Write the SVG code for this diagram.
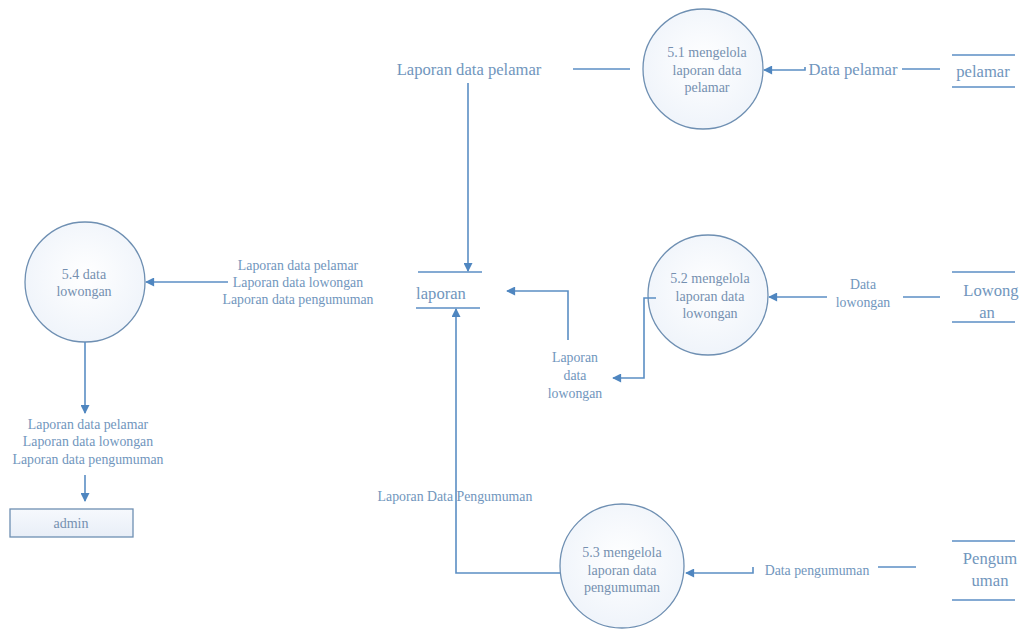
<svg xmlns="http://www.w3.org/2000/svg" width="1023" height="629" viewBox="0 0 1023 629">
  <defs>
    <radialGradient id="procFill" cx="50%" cy="45%" r="60%">
      <stop offset="0%" stop-color="#ffffff"/>
      <stop offset="100%" stop-color="#eef3fa"/>
    </radialGradient>
    <linearGradient id="boxFill" x1="0" y1="0" x2="0" y2="1">
      <stop offset="0%" stop-color="#f6f9fd"/>
      <stop offset="100%" stop-color="#e8eef7"/>
    </linearGradient>
    <marker id="arrow" viewBox="0 0 10 10" refX="9" refY="5" markerWidth="10" markerHeight="9" markerUnits="userSpaceOnUse" orient="auto">
      <path d="M0,0 L10,5 L0,10 z" fill="#4f86c0"/>
    </marker>
  </defs>
  <style>
    .proc { fill: url(#procFill); stroke: #6e8fb2; stroke-width: 1.3; }
    .store { stroke: #5b8ec4; stroke-width: 1.6; }
    .flow { fill: none; stroke: #5b8ec4; stroke-width: 1.6; }
    text { font-family: "Liberation Serif", "DejaVu Serif", serif; text-anchor: middle; }
    .lbl { fill: #7196bd; font-size: 13.8px; }
    .big { font-size: 16.6px; }
    .ptxt { fill: #7590b0; font-size: 14px; }
  </style>
  <rect width="1023" height="629" fill="#ffffff"/>

  <!-- processes -->
  <g id="p51">
    <circle class="proc" cx="703" cy="69" r="60"/>
    <text class="ptxt" x="707" y="57">5.1 mengelola</text>
    <text class="ptxt" x="707" y="75">laporan data</text>
    <text class="ptxt" x="707" y="92">pelamar</text>
  </g>
  <g id="p52">
    <circle class="proc" cx="708" cy="295" r="60"/>
    <text class="ptxt" x="710" y="283">5.2 mengelola</text>
    <text class="ptxt" x="710" y="301">laporan data</text>
    <text class="ptxt" x="710" y="318">lowongan</text>
  </g>
  <g id="p53">
    <circle class="proc" cx="622" cy="566" r="62"/>
    <text class="ptxt" x="622" y="557">5.3 mengelola</text>
    <text class="ptxt" x="622" y="575">laporan data</text>
    <text class="ptxt" x="622" y="592">pengumuman</text>
  </g>
  <g id="p54">
    <circle class="proc" cx="85" cy="282" r="60"/>
    <text class="ptxt" x="84" y="279">5.4 data</text>
    <text class="ptxt" x="84" y="296">lowongan</text>
  </g>

  <!-- data stores -->
  <g id="store-laporan">
    <line class="store" x1="418" y1="272" x2="482" y2="272"/>
    <line class="store" x1="416" y1="308" x2="480" y2="308"/>
    <text class="lbl big" x="441" y="299">laporan</text>
  </g>
  <g id="store-pelamar">
    <line class="store" x1="952" y1="55" x2="1015" y2="55"/>
    <line class="store" x1="952" y1="87" x2="1015" y2="87"/>
    <text class="lbl big" x="983" y="77">pelamar</text>
  </g>
  <g id="store-lowongan">
    <line class="store" x1="952" y1="272" x2="1015" y2="272"/>
    <line class="store" x1="952" y1="322" x2="1015" y2="322"/>
    <text class="lbl big" x="991" y="296">Lowong</text>
    <text class="lbl big" x="987" y="318">an</text>
  </g>
  <g id="store-pengumuman">
    <line class="store" x1="952" y1="541" x2="1015" y2="541"/>
    <line class="store" x1="952" y1="600" x2="1015" y2="600"/>
    <text class="lbl big" x="990" y="564">Pengum</text>
    <text class="lbl big" x="990" y="586">uman</text>
  </g>

  <!-- external entity -->
  <g id="admin">
    <rect x="10" y="509" width="123" height="28" fill="url(#boxFill)" stroke="#6e8fb2" stroke-width="1.3"/>
    <text class="ptxt" x="71" y="528">admin</text>
  </g>

  <!-- data flows -->
  <g id="connectors">
    <!-- 5.1 to laporan -->
    <line class="flow" x1="573" y1="69" x2="630" y2="69"/>
    <line class="flow" x1="468" y1="83" x2="468" y2="271" marker-end="url(#arrow)"/>
    <!-- pelamar to 5.1 -->
    <line class="flow" x1="902" y1="69" x2="940" y2="69"/>
    <polyline class="flow" points="805,67 805,70 764,70" marker-end="url(#arrow)"/>
    <!-- Lowongan to 5.2 -->
    <line class="flow" x1="903" y1="297" x2="940" y2="297"/>
    <line class="flow" x1="827" y1="297" x2="769" y2="297" marker-end="url(#arrow)"/>
    <!-- 5.2 to laporan -->
    <polyline class="flow" points="656,298 644,298 644,378 613,378" marker-end="url(#arrow)"/>
    <polyline class="flow" points="568,340 568,291 507,291" marker-end="url(#arrow)"/>
    <!-- Pengumuman to 5.3 -->
    <line class="flow" x1="878" y1="567" x2="916" y2="567"/>
    <polyline class="flow" points="753,567 753,573 686,573" marker-end="url(#arrow)"/>
    <!-- 5.3 to laporan -->
    <polyline class="flow" points="560,573 456,573 456,309" marker-end="url(#arrow)"/>
    <!-- laporan to 5.4 -->
    <line class="flow" x1="228" y1="282" x2="146" y2="282" marker-end="url(#arrow)"/>
    <!-- 5.4 to admin -->
    <line class="flow" x1="85" y1="342" x2="85" y2="413" marker-end="url(#arrow)"/>
    <line class="flow" x1="85" y1="475" x2="85" y2="501" marker-end="url(#arrow)"/>
  </g>

  <!-- flow labels -->
  <g id="flow-labels">
    <text class="lbl big" x="469" y="75">Laporan data pelamar</text>
    <text class="lbl big" x="853" y="75">Data pelamar</text>
    <text class="lbl" x="863" y="289">Data</text>
    <text class="lbl" x="863" y="307">lowongan</text>
    <text class="lbl" x="575" y="362">Laporan</text>
    <text class="lbl" x="575" y="380">data</text>
    <text class="lbl" x="575" y="398">lowongan</text>
    <text class="lbl" x="455" y="501">Laporan Data Pengumuman</text>
    <text class="lbl" x="817" y="575">Data pengumuman</text>
    <text class="lbl" x="298" y="270">Laporan data pelamar</text>
    <text class="lbl" x="298" y="287">Laporan data lowongan</text>
    <text class="lbl" x="298" y="304">Laporan data pengumuman</text>
    <text class="lbl" x="88" y="429">Laporan data pelamar</text>
    <text class="lbl" x="88" y="446">Laporan data lowongan</text>
    <text class="lbl" x="88" y="464">Laporan data pengumuman</text>
  </g>
</svg>
